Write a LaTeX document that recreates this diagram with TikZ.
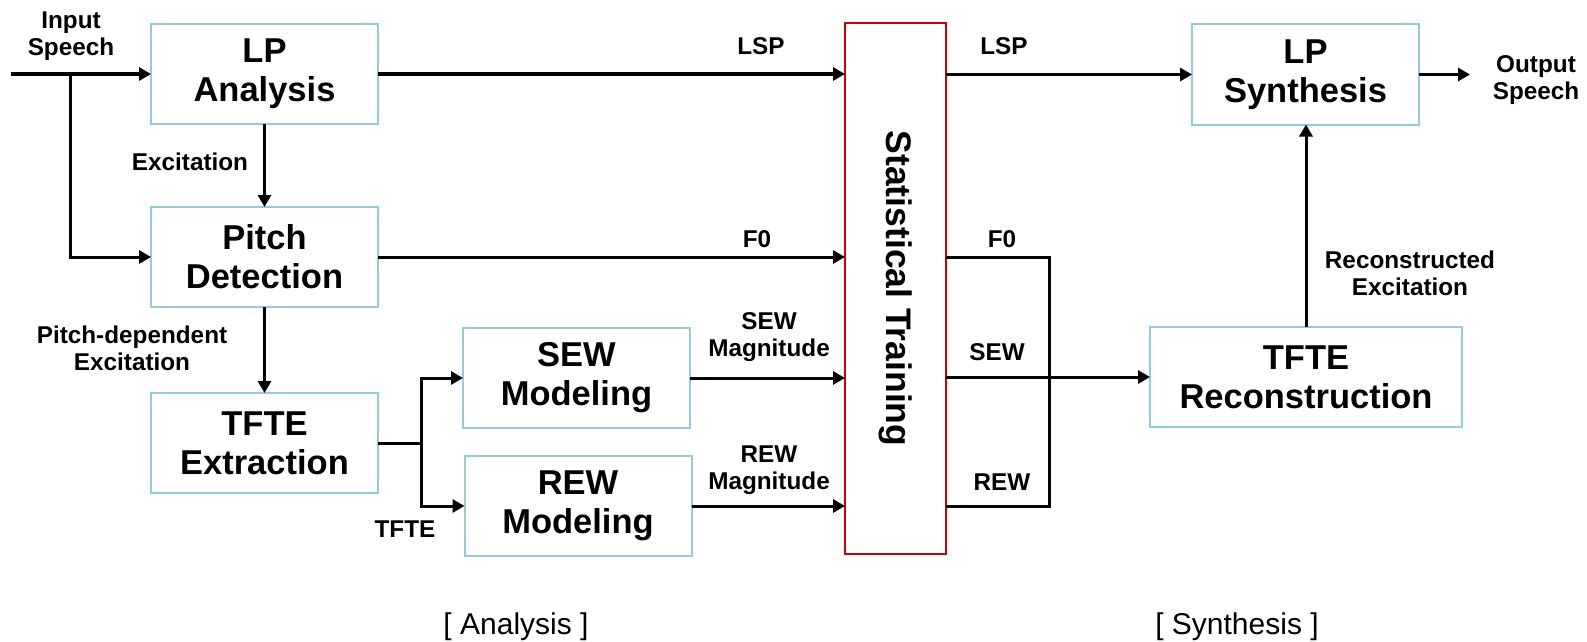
\documentclass[tikz,border=0pt]{standalone}
\usepackage{fontspec}
\setmainfont{Liberation Sans}
\usetikzlibrary{arrows.meta,positioning}
\definecolor{boxblue}{RGB}{146,205,220}
\definecolor{trainred}{RGB}{204,0,0}

\begin{document}
\begin{tikzpicture}[x=1pt, y=-1pt,
    block/.style = {draw=boxblue, line width=2pt, minimum width=227pt,
        minimum height=100pt, inner sep=0pt, outer sep=0pt, align=center,
        font=\fontsize{34.5}{39}\selectfont\bfseries},
    lbl/.style = {inner sep=0pt, align=center,
        font=\fontsize{24.3}{27}\selectfont\bfseries},
    part/.style = {inner sep=0pt, font=\fontsize{30}{34}\selectfont},
    wire/.style = {line width=3pt},
    flow/.style = {wire, -{Triangle[length=12pt,width=13pt]}}]
\useasboundingbox (0,0) rectangle (1587,642);

% analysis side
\node[block] (lpa) at (264.5,74) {LP\\Analysis};
\node[block, below=83pt of lpa] (pitch) {Pitch\\Detection};
\node[block, below=86pt of pitch] (tftex) {TFTE\\Extraction};
\node[block] (sew) at (576.5,378) {SEW\\Modeling};
\node[block] (rew) at (578,506) {REW\\Modeling};

% training
\node[draw=trainred, line width=2pt, minimum width=101pt, minimum height=531pt,
    inner sep=0pt, outer sep=0pt] (stat) at (895.5,288.5) {};
\node[rotate=-90, inner sep=0pt, font=\fontsize{35.5}{38}\selectfont\bfseries]
    (stattxt) at (stat.center) {Statistical Training};

% synthesis side
\node[block] (lps) at (1305.5,74.5) {LP\\Synthesis};
\node[block, minimum width=312pt] (tfrec) at (1306,377) {TFTE\\Reconstruction};

\coordinate (in) at (11,74);
\coordinate (split) at (70,74);
\coordinate (fork) at (421,443);
\coordinate (join) at (1049,377);
\coordinate (out) at (1470,74.5);

\draw[flow] (in) -- (lpa.west);
\draw[flow] (split) |- (pitch.west);
\draw[flow] (lpa.south) -- (pitch.north);
\draw[flow] (pitch.south) -- (tftex.north);
\draw[wire] (tftex.east) -- (fork);
\draw[flow] (fork) |- (sew.west);
\draw[flow] (fork) |- (rew.west);
\draw[flow] (lpa.east) -- (stat.west |- lpa.east);
\draw[flow] (pitch.east) -- (stat.west |- pitch.east);
\draw[flow] (sew.east) -- (stat.west |- sew.east);
\draw[flow] (rew.east) -- (stat.west |- rew.east);
\draw[wire] (stat.east |- pitch.east) -| (join |- rew.east) -- (stat.east |- rew.east);
\draw[flow] (stat.east |- tfrec.west) -- (tfrec.west);
\draw[flow] (stat.east |- lps.west) -- (lps.west);
\draw[flow] (tfrec.north) -- (tfrec.north |- lps.south);
\draw[flow] (lps.east) -- (out);

% labels
\node[lbl] (inlbl) at (71,36) {Input\\Speech};
\node[lbl] (exclbl) at (190,162) {Excitation};
\node[lbl] (pdlbl) at (132,348) {Pitch-dependent\\Excitation};
\node[lbl] (tftelbl) at (405,529) {TFTE};
\node[lbl] (lsplbl) at (761,46) {LSP};
\node[lbl] (f0lbl) at (757,239) {F0};
\node[lbl] (sewlbl) at (769,337.5) {SEW\\Magnitude};
\node[lbl] (rewlbl) at (769,470.5) {REW\\Magnitude};
\node[lbl] (lspout) at (1004,46) {LSP};
\node[lbl] (f0out) at (1002,239) {F0};
\node[lbl] (sewout) at (997,352) {SEW};
\node[lbl] (rewout) at (1002,482) {REW};
\node[lbl] (reclbl) at (1410,273) {Reconstructed\\Excitation};
\node[lbl] (outlbl) at (1536,80) {Output\\Speech};
\node[part] (anapart) at (516,627) {[ Analysis ]};
\node[part] (synpart) at (1237,627) {[ Synthesis ]};
\end{tikzpicture}
\end{document}
